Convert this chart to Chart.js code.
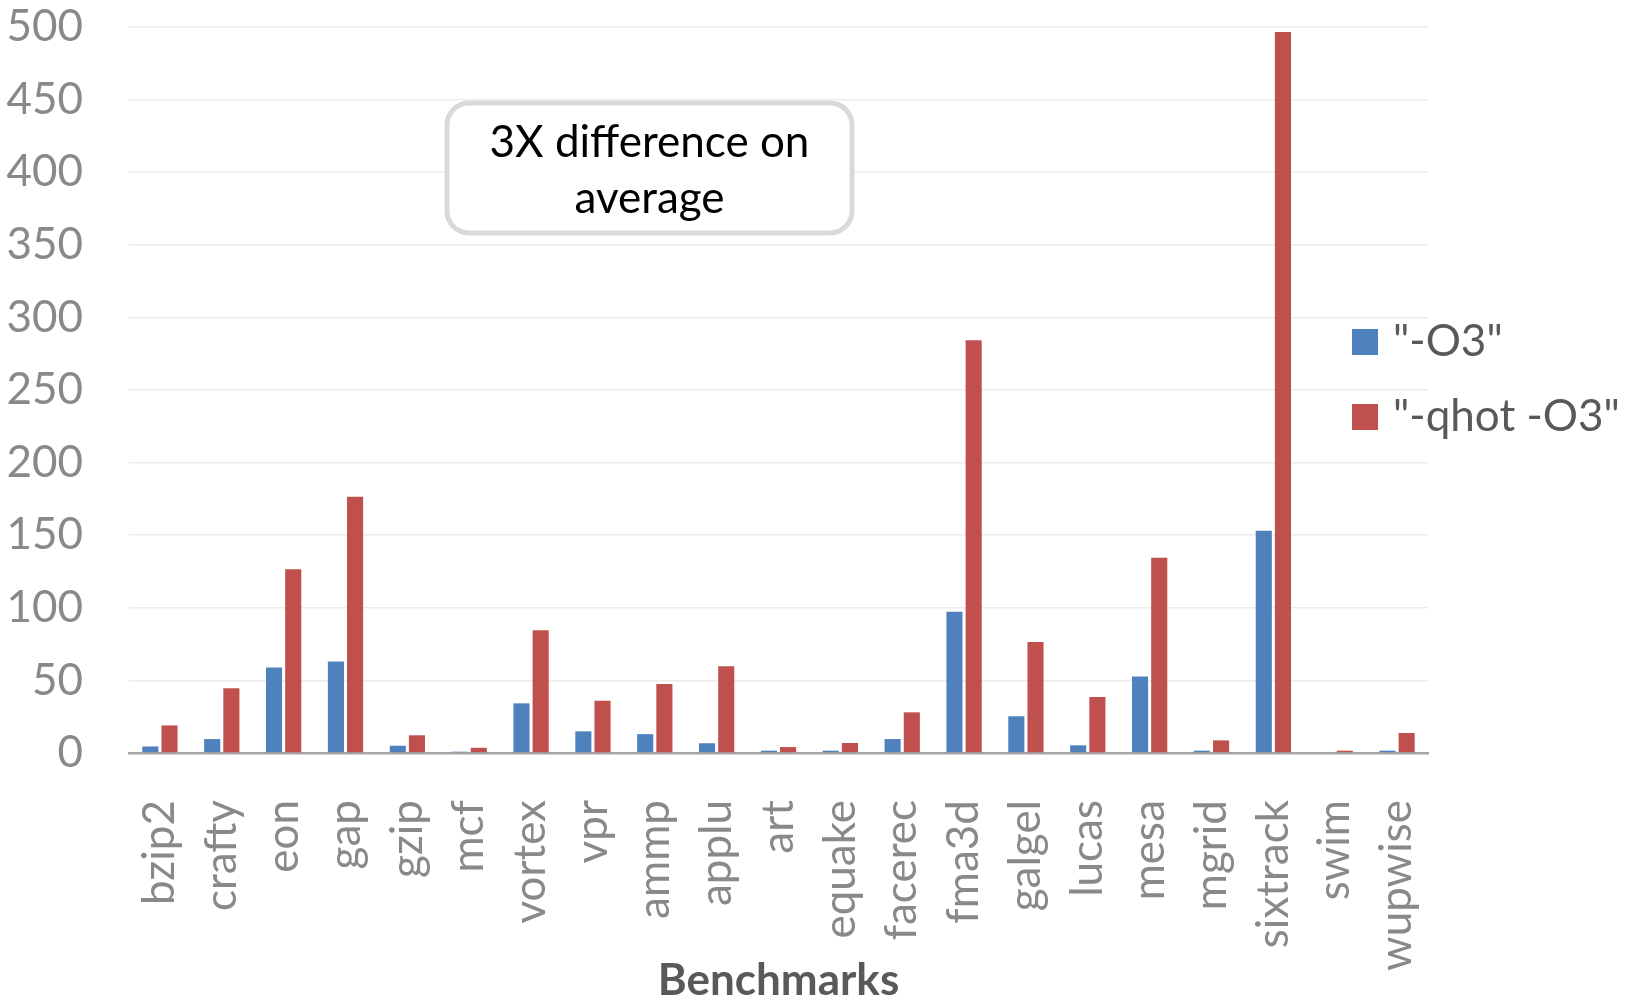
<!DOCTYPE html>
<html>
<head>
<meta charset="utf-8">
<title>Benchmarks</title>
<script src="https://cdn.jsdelivr.net/npm/chart.js@4/dist/chart.umd.min.js"></script>
<style>
  html, body { margin:0; padding:0; background:#fff; }
  #wrap { width:1633px; height:1000px; position:relative; }
</style>
</head>
<body>
<div id="wrap"><canvas id="benchChart" width="1633" height="1000"></canvas></div>
<script>
var BENCHMARKS = ['bzip2','crafty','eon','gap','gzip','mcf','vortex','vpr','ammp','applu','art',
  'equake','facerec','fma3d','galgel','lucas','mesa','mgrid','sixtrack','swim','wupwise'];
var SERIES_NAMES = ['"-O3"', '"-qhot -O3"'];
var O3_VALUES   = [4.5, 9.6, 58.8, 63.1, 5, 0.9, 34.2, 14.9, 13, 6.7, 1.6,
  1.6, 9.6, 97.3, 25.3, 5.3, 52.6, 1.6, 153.1, 0, 1.6];
var QHOT_VALUES = [19, 44.6, 126.5, 176.5, 12.2, 3.6, 84.5, 36, 47.5, 59.7, 4.1,
  6.9, 28, 284.2, 76.4, 38.6, 134.5, 8.7, 496.6, 1.6, 13.8];
var Y_MIN = 0, Y_MAX = 500, Y_STEP = 50;
var NOTE_LINES = ['3X difference on', 'average'];

var FONT = 'Lato, "Open Sans", sans-serif';
var BLUE = '#4F81BD', RED = '#C0504D';

function roundRect(ctx, x, y, w, h, r) {
  ctx.beginPath();
  ctx.moveTo(x + r, y);
  ctx.arcTo(x + w, y, x + w, y + h, r);
  ctx.arcTo(x + w, y + h, x, y + h, r);
  ctx.arcTo(x, y + h, x, y, r);
  ctx.arcTo(x, y, x + w, y, r);
  ctx.closePath();
}

/* note box + legend drawn on top of the plot */
var overlay = {
  id: 'overlay',
  afterDraw: function(chart) {
    var ctx = chart.ctx, a = chart.chartArea;
    ctx.save();

    // rounded callout
    var bx = a.left + 318, by = a.top + 76, bw = 405, bh = 130;
    roundRect(ctx, bx, by, bw, bh, 22);
    ctx.fillStyle = '#fff';
    ctx.fill();
    ctx.lineWidth = 5;
    ctx.strokeStyle = '#D9D9D9';
    ctx.stroke();
    ctx.fillStyle = '#000';
    ctx.font = '44px ' + FONT;
    ctx.textAlign = 'center';
    ctx.textBaseline = 'alphabetic';
    NOTE_LINES.forEach(function(t, i) {
      ctx.fillText(t, bx + bw / 2, by + 54 + i * 56);
    });

    // legend
    var lx = 1352, ly = 342;
    ctx.textAlign = 'left';
    ctx.textBaseline = 'middle';
    chart.data.datasets.forEach(function(ds, i) {
      var y = ly + i * 75;
      ctx.fillStyle = ds.backgroundColor;
      ctx.fillRect(lx, y - 13, 26, 26);
      ctx.fillStyle = '#595959';
      ctx.fillText(ds.label, lx + 41, y);
    });
    ctx.restore();
  }
};

new Chart(document.getElementById('benchChart'), {
  type: 'bar',
  data: {
    labels: BENCHMARKS,
    datasets: [
      { label: SERIES_NAMES[0], data: O3_VALUES, backgroundColor: BLUE },
      { label: SERIES_NAMES[1], data: QHOT_VALUES, backgroundColor: RED }
    ]
  },
  options: {
    responsive: false,
    animation: false,
    layout: { padding: { top: 27, right: 205, bottom: 0, left: 0 } },
    datasets: { bar: { categoryPercentage: 0.62, barPercentage: 0.84 } },
    plugins: { legend: { display: false }, tooltip: { enabled: false } },
    scales: {
      x: {
        afterFit: function(s) { s.height = 247; s.paddingLeft = 0; s.paddingRight = 0; },
        grid: { display: false, drawTicks: false },
        border: { display: true, color: '#A6A6A6', width: 2.5 },
        ticks: {
          minRotation: 90, maxRotation: 90, autoSkip: false, padding: 47,
          color: '#898989', font: { family: FONT, size: 44, lineHeight: 1 }
        },
        title: {
          display: true, text: 'Benchmarks', color: '#595959',
          padding: 0, font: { family: FONT, size: 44, weight: 'bold', lineHeight: 0.86 }
        }
      },
      y: {
        min: Y_MIN, max: Y_MAX,
        afterFit: function(s) { s.width = 129; s.paddingTop = 0; s.paddingBottom = 0; },
        border: { display: false },
        grid: {
          drawTicks: false, lineWidth: 1.6,
          color: function(c) { return c.tick && c.tick.value === 0 ? 'rgba(0,0,0,0)' : '#EEECE4'; }
        },
        ticks: {
          stepSize: Y_STEP, padding: 46, color: '#898989',
          font: { family: FONT, size: 44, lineHeight: 1 }
        }
      }
    }
  },
  plugins: [overlay]
});
</script>
</body>
</html>
